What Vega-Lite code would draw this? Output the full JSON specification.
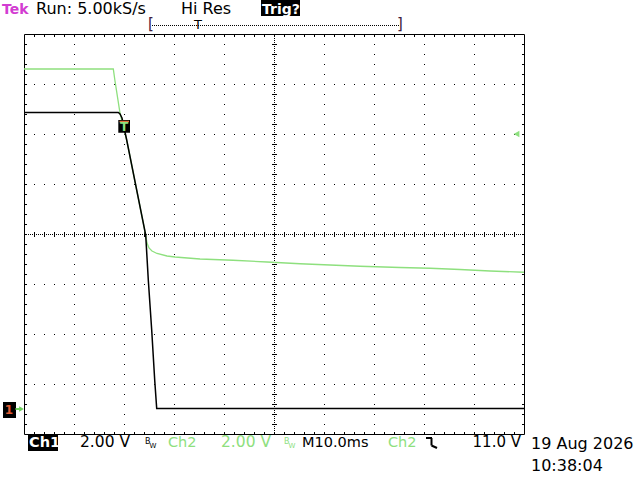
{
  "$schema": "https://vega.github.io/schema/vega-lite/v6.json",
  "width": 500,
  "height": 400,
  "autosize": {"type": "none"},
  "padding": {"left": 24, "top": 34, "right": 116, "bottom": 46},
  "background": "white",
  "config": {"view": {"stroke": "black", "strokeWidth": 1}, "font": "DejaVu Sans"},
  "data": {"values": [{}]},
  "datasets": {
    "traces": [
      {"ch": "Ch2", "t": 0, "v": 13.6},
      {"ch": "Ch2", "t": 17.86, "v": 13.6},
      {"ch": "Ch2", "t": 18.2, "v": 13.12},
      {"ch": "Ch2", "t": 19.2, "v": 11.84},
      {"ch": "Ch2", "t": 19.6, "v": 11.52},
      {"ch": "Ch2", "t": 20.54, "v": 10.76},
      {"ch": "Ch2", "t": 24.34, "v": 6.96},
      {"ch": "Ch2", "t": 24.6, "v": 6.64},
      {"ch": "Ch2", "t": 25.0, "v": 6.44},
      {"ch": "Ch2", "t": 25.6, "v": 6.32},
      {"ch": "Ch2", "t": 26.6, "v": 6.22},
      {"ch": "Ch2", "t": 28.6, "v": 6.12},
      {"ch": "Ch2", "t": 30.2, "v": 6.08},
      {"ch": "Ch2", "t": 35.2, "v": 6.0},
      {"ch": "Ch2", "t": 41.8, "v": 5.95},
      {"ch": "Ch2", "t": 48.6, "v": 5.88},
      {"ch": "Ch2", "t": 55.2, "v": 5.81},
      {"ch": "Ch2", "t": 61.2, "v": 5.76},
      {"ch": "Ch2", "t": 67.2, "v": 5.71},
      {"ch": "Ch2", "t": 75.2, "v": 5.66},
      {"ch": "Ch2", "t": 81.2, "v": 5.63},
      {"ch": "Ch2", "t": 87.2, "v": 5.58},
      {"ch": "Ch2", "t": 93.2, "v": 5.52},
      {"ch": "Ch2", "t": 100, "v": 5.47},
      {"ch": "Ch1", "t": 0, "v": 11.86},
      {"ch": "Ch1", "t": 18.86, "v": 11.86},
      {"ch": "Ch1", "t": 19.2, "v": 11.8},
      {"ch": "Ch1", "t": 19.6, "v": 11.64},
      {"ch": "Ch1", "t": 20.54, "v": 10.76},
      {"ch": "Ch1", "t": 24.34, "v": 6.96},
      {"ch": "Ch1", "t": 24.86, "v": 5.16},
      {"ch": "Ch1", "t": 25.54, "v": 3.16},
      {"ch": "Ch1", "t": 26.14, "v": 1.16},
      {"ch": "Ch1", "t": 26.54, "v": 0.02},
      {"ch": "Ch1", "t": 100, "v": 0.02}
    ]
  },
  "resolve": {"axis": {"x": "independent", "y": "independent"}},
  "layer": [
    {
      "mark": {"type": "point", "opacity": 0},
      "encoding": {
        "x": {"datum": 50, "type": "quantitative",
          "scale": {"domain": [0, 100], "nice": false, "zero": false},
          "axis": {"orient": "bottom", "title": null, "labels": false, "domain": false, "ticks": false,
            "values": [10, 20, 30, 40, 60, 70, 80, 90],
            "grid": true, "gridColor": "black", "gridWidth": 1, "gridOpacity": 1, "gridDash": [1, 9], "gridDashOffset": 0.5}},
        "y": {"datum": 7, "type": "quantitative",
          "scale": {"domain": [-1, 15], "nice": false, "zero": false},
          "axis": {"orient": "left", "title": null, "labels": false, "domain": false, "ticks": false,
            "values": [1, 3, 5, 9, 11, 13],
            "grid": true, "gridColor": "black", "gridWidth": 1, "gridOpacity": 1, "gridDash": [1, 9], "gridDashOffset": 0.5}}
      }
    },
    {
      "mark": {"type": "point", "opacity": 0},
      "encoding": {
        "x": {"datum": 50, "type": "quantitative",
          "axis": {"orient": "top", "offset": -400, "title": null, "labels": false, "domain": false, "grid": false,
            "values": [2,4,6,8,10,12,14,16,18,20,22,24,26,28,30,32,34,36,38,40,42,44,46,48,50,52,54,56,58,60,62,64,66,68,70,72,74,76,78,80,82,84,86,88,90,92,94,96,98],
            "ticks": true, "tickSize": 2.5, "tickColor": "black", "tickWidth": 1, "tickOpacity": 1}},
        "y": {"datum": 7, "type": "quantitative",
          "axis": {"orient": "right", "offset": -500, "title": null, "labels": false, "domain": false, "grid": false,
            "values": [-0.6,-0.2,0.2,0.6,1,1.4,1.8,2.2,2.6,3,3.4,3.8,4.2,4.6,5,5.4,5.8,6.2,6.6,7,7.4,7.8,8.2,8.6,9,9.4,9.8,10.2,10.6,11,11.4,11.8,12.2,12.6,13,13.4,13.8,14.2,14.6],
            "ticks": true, "tickSize": 2.5, "tickColor": "black", "tickWidth": 1, "tickOpacity": 1}}
      }
    },
    {
      "mark": {"type": "point", "opacity": 0},
      "encoding": {
        "x": {"datum": 50, "type": "quantitative",
          "axis": {"orient": "bottom", "offset": -400, "title": null, "labels": false, "domain": false, "grid": false,
            "values": [2,4,6,8,10,12,14,16,18,20,22,24,26,28,30,32,34,36,38,40,42,44,46,48,50,52,54,56,58,60,62,64,66,68,70,72,74,76,78,80,82,84,86,88,90,92,94,96,98],
            "ticks": true, "tickSize": 2.5, "tickColor": "black", "tickWidth": 1, "tickOpacity": 1}},
        "y": {"datum": 7, "type": "quantitative",
          "axis": {"orient": "left", "offset": -500, "title": null, "labels": false, "domain": false, "grid": false,
            "values": [-0.6,-0.2,0.2,0.6,1,1.4,1.8,2.2,2.6,3,3.4,3.8,4.2,4.6,5,5.4,5.8,6.2,6.6,7,7.4,7.8,8.2,8.6,9,9.4,9.8,10.2,10.6,11,11.4,11.8,12.2,12.6,13,13.4,13.8,14.2,14.6],
            "ticks": true, "tickSize": 2.5, "tickColor": "black", "tickWidth": 1, "tickOpacity": 1}}
      }
    },
    {
      "mark": {"type": "point", "opacity": 0},
      "encoding": {
        "x": {"datum": 50, "type": "quantitative",
          "axis": {"orient": "bottom", "offset": -200, "title": null, "labels": false, "grid": false,
            "domain": true, "domainColor": "black", "domainWidth": 1, "domainDash": [1, 1], "domainDashOffset": 0.5,
            "values": [2,4,6,8,10,12,14,16,18,20,22,24,26,28,30,32,34,36,38,40,42,44,46,48,50,52,54,56,58,60,62,64,66,68,70,72,74,76,78,80,82,84,86,88,90,92,94,96,98],
            "ticks": true, "tickSize": 2.5, "tickColor": "black", "tickWidth": 1, "tickOpacity": 1}},
        "y": {"datum": 7, "type": "quantitative",
          "axis": {"orient": "left", "offset": -250, "title": null, "labels": false, "grid": false,
            "domain": true, "domainColor": "black", "domainWidth": 1, "domainDash": [1, 1], "domainDashOffset": 0.5,
            "values": [-0.6,-0.2,0.2,0.6,1,1.4,1.8,2.2,2.6,3,3.4,3.8,4.2,4.6,5,5.4,5.8,6.2,6.6,7,7.4,7.8,8.2,8.6,9,9.4,9.8,10.2,10.6,11,11.4,11.8,12.2,12.6,13,13.4,13.8,14.2,14.6],
            "ticks": true, "tickSize": 2.5, "tickColor": "black", "tickWidth": 1, "tickOpacity": 1}}
      }
    },
    {
      "mark": {"type": "point", "opacity": 0},
      "encoding": {
        "x": {"datum": 50, "type": "quantitative",
          "axis": {"orient": "top", "offset": -200, "title": null, "labels": false, "grid": false, "domain": false,
            "values": [2,4,6,8,10,12,14,16,18,20,22,24,26,28,30,32,34,36,38,40,42,44,46,48,50,52,54,56,58,60,62,64,66,68,70,72,74,76,78,80,82,84,86,88,90,92,94,96,98],
            "ticks": true, "tickSize": 2.5, "tickColor": "black", "tickWidth": 1, "tickOpacity": 1}},
        "y": {"datum": 7, "type": "quantitative",
          "axis": {"orient": "right", "offset": -250, "title": null, "labels": false, "grid": false, "domain": false,
            "values": [-0.6,-0.2,0.2,0.6,1,1.4,1.8,2.2,2.6,3,3.4,3.8,4.2,4.6,5,5.4,5.8,6.2,6.6,7,7.4,7.8,8.2,8.6,9,9.4,9.8,10.2,10.6,11,11.4,11.8,12.2,12.6,13,13.4,13.8,14.2,14.6],
            "ticks": true, "tickSize": 2.5, "tickColor": "black", "tickWidth": 1, "tickOpacity": 1}}
      }
    },
    {
      "data": {"name": "traces"},
      "transform": [{"filter": "datum.ch === 'Ch2'"}],
      "mark": {"type": "line", "color": "#8ee07e", "strokeWidth": 1.3, "interpolate": "linear"},
      "encoding": {
        "x": {"field": "t", "type": "quantitative", "axis": null},
        "y": {"field": "v", "type": "quantitative", "axis": null}
      }
    },
    {
      "data": {"name": "traces"},
      "transform": [{"filter": "datum.ch === 'Ch1'"}],
      "mark": {"type": "line", "color": "black", "strokeWidth": 1.5, "interpolate": "linear"},
      "encoding": {
        "x": {"field": "t", "type": "quantitative", "axis": null},
        "y": {"field": "v", "type": "quantitative", "axis": null}
      }
    },
    {
      "mark": {"type": "rect", "color": "black"},
      "encoding": {
        "x": {"datum": 18.86, "type": "quantitative", "axis": null}, "x2": {"datum": 21.2},
        "y": {"datum": 11.56, "type": "quantitative", "axis": null}, "y2": {"datum": 11.05}
      }
    },
    {
      "mark": {"type": "rule", "color": "#e0703a", "strokeWidth": 1.5},
      "encoding": {
        "x": {"datum": 19.1, "type": "quantitative", "axis": null}, "x2": {"datum": 21.0},
        "y": {"datum": 11.5, "type": "quantitative", "axis": null}
      }
    },
    {
      "mark": {"type": "text", "text": "T", "color": "#8ee07e", "fontSize": 12, "fontWeight": "bold", "align": "center", "baseline": "middle"},
      "encoding": {
        "x": {"datum": 20.0, "type": "quantitative", "axis": null},
        "y": {"datum": 11.3, "type": "quantitative", "axis": null}
      }
    },
    {
      "mark": {"type": "point", "shape": "triangle-left", "filled": true, "color": "#8ee07e", "opacity": 1, "size": 45},
      "encoding": {
        "x": {"datum": 98.5, "type": "quantitative", "axis": null},
        "y": {"datum": 11.0, "type": "quantitative", "axis": null}
      }
    },
    {
      "mark": {"type": "rect", "color": "black"},
      "encoding": {
        "x": {"datum": -4.2, "type": "quantitative", "axis": null}, "x2": {"datum": -1.6},
        "y": {"datum": 0.28, "type": "quantitative", "axis": null}, "y2": {"datum": -0.36}
      }
    },
    {
      "mark": {"type": "text", "text": "1", "color": "#e05a32", "fontSize": 12, "fontWeight": "bold", "align": "center", "baseline": "middle"},
      "encoding": {
        "x": {"datum": -3.0, "type": "quantitative", "axis": null},
        "y": {"datum": -0.04, "type": "quantitative", "axis": null}
      }
    },
    {
      "mark": {"type": "rule", "color": "#6fd25e", "strokeWidth": 2},
      "encoding": {
        "x": {"datum": -1.7, "type": "quantitative", "axis": null}, "x2": {"datum": -0.4},
        "y": {"datum": 0.0, "type": "quantitative", "axis": null}
      }
    },
    {
      "mark": {"type": "point", "shape": "triangle-right", "filled": true, "color": "#6fd25e", "opacity": 1, "size": 30},
      "encoding": {
        "x": {"datum": -0.5, "type": "quantitative", "axis": null},
        "y": {"datum": 0.0, "type": "quantitative", "axis": null}
      }
    },
    {
      "mark": {"type": "text", "text": "Tek", "color": "#d23cd2", "fontSize": 14, "fontWeight": "bold", "align": "left", "baseline": "alphabetic"},
      "encoding": {
        "x": {"datum": -4.4, "type": "quantitative", "axis": null},
        "y": {"datum": 15.8, "type": "quantitative", "axis": null}
      }
    },
    {
      "mark": {"type": "text", "text": "Run: 5.00kS/s", "color": "black", "fontSize": 16, "align": "left", "baseline": "alphabetic"},
      "encoding": {
        "x": {"datum": 2.4, "type": "quantitative", "axis": null},
        "y": {"datum": 15.8, "type": "quantitative", "axis": null}
      }
    },
    {
      "mark": {"type": "text", "text": "Hi Res", "color": "black", "fontSize": 16, "align": "left", "baseline": "alphabetic"},
      "encoding": {
        "x": {"datum": 31.4, "type": "quantitative", "axis": null},
        "y": {"datum": 15.8, "type": "quantitative", "axis": null}
      }
    },
    {
      "mark": {"type": "rect", "color": "black"},
      "encoding": {
        "x": {"datum": 47.4, "type": "quantitative", "axis": null}, "x2": {"datum": 55.2},
        "y": {"datum": 16.36, "type": "quantitative", "axis": null}, "y2": {"datum": 15.72}
      }
    },
    {
      "mark": {"type": "text", "text": "Trig?", "color": "white", "fontSize": 14, "fontWeight": "bold", "align": "left", "baseline": "alphabetic"},
      "encoding": {
        "x": {"datum": 47.6, "type": "quantitative", "axis": null},
        "y": {"datum": 15.8, "type": "quantitative", "axis": null}
      }
    },
    {
      "mark": {"type": "rule", "color": "black", "strokeWidth": 1, "strokeDash": [1, 1]},
      "encoding": {
        "x": {"datum": 25.6, "type": "quantitative", "axis": null}, "x2": {"datum": 75.0},
        "y": {"datum": 15.34, "type": "quantitative", "axis": null}
      }
    },
    {
      "mark": {"type": "text", "text": "[", "color": "#402040", "fontSize": 15, "align": "center", "baseline": "middle"},
      "encoding": {
        "x": {"datum": 25.4, "type": "quantitative", "axis": null},
        "y": {"datum": 15.4, "type": "quantitative", "axis": null}
      }
    },
    {
      "mark": {"type": "text", "text": "]", "color": "#402040", "fontSize": 15, "align": "center", "baseline": "middle"},
      "encoding": {
        "x": {"datum": 75.2, "type": "quantitative", "axis": null},
        "y": {"datum": 15.4, "type": "quantitative", "axis": null}
      }
    },
    {
      "mark": {"type": "text", "text": "T", "color": "black", "fontSize": 13, "align": "center", "baseline": "middle"},
      "encoding": {
        "x": {"datum": 34.8, "type": "quantitative", "axis": null},
        "y": {"datum": 15.38, "type": "quantitative", "axis": null}
      }
    },
    {
      "mark": {"type": "rect", "color": "black"},
      "encoding": {
        "x": {"datum": 0.8, "type": "quantitative", "axis": null}, "x2": {"datum": 6.8},
        "y": {"datum": -1.04, "type": "quantitative", "axis": null}, "y2": {"datum": -1.68}
      }
    },
    {
      "mark": {"type": "text", "text": "Ch1", "color": "white", "fontSize": 14.5, "fontWeight": "bold", "align": "left", "baseline": "alphabetic"},
      "encoding": {
        "x": {"datum": 1.0, "type": "quantitative", "axis": null},
        "y": {"datum": -1.52, "type": "quantitative", "axis": null}
      }
    },
    {
      "mark": {"type": "text", "text": "2.00 V", "color": "black", "fontSize": 15.5, "align": "left", "baseline": "alphabetic"},
      "encoding": {
        "x": {"datum": 11.2, "type": "quantitative", "axis": null},
        "y": {"datum": -1.52, "type": "quantitative", "axis": null}
      }
    },
    {
      "mark": {"type": "text", "text": "B", "color": "black", "fontSize": 8, "align": "left", "baseline": "alphabetic"},
      "encoding": {
        "x": {"datum": 24.2, "type": "quantitative", "axis": null},
        "y": {"datum": -1.4, "type": "quantitative", "axis": null}
      }
    },
    {
      "mark": {"type": "text", "text": "W", "color": "black", "fontSize": 7, "align": "left", "baseline": "alphabetic"},
      "encoding": {
        "x": {"datum": 25.1, "type": "quantitative", "axis": null},
        "y": {"datum": -1.56, "type": "quantitative", "axis": null}
      }
    },
    {
      "mark": {"type": "text", "text": "Ch2", "color": "#8ee07e", "fontSize": 14.5, "align": "left", "baseline": "alphabetic"},
      "encoding": {
        "x": {"datum": 28.8, "type": "quantitative", "axis": null},
        "y": {"datum": -1.52, "type": "quantitative", "axis": null}
      }
    },
    {
      "mark": {"type": "text", "text": "2.00 V", "color": "#8ee07e", "fontSize": 15.5, "align": "left", "baseline": "alphabetic"},
      "encoding": {
        "x": {"datum": 39.4, "type": "quantitative", "axis": null},
        "y": {"datum": -1.52, "type": "quantitative", "axis": null}
      }
    },
    {
      "mark": {"type": "text", "text": "B", "color": "#8ee07e", "fontSize": 8, "align": "left", "baseline": "alphabetic"},
      "encoding": {
        "x": {"datum": 52.0, "type": "quantitative", "axis": null},
        "y": {"datum": -1.4, "type": "quantitative", "axis": null}
      }
    },
    {
      "mark": {"type": "text", "text": "W", "color": "#8ee07e", "fontSize": 7, "align": "left", "baseline": "alphabetic"},
      "encoding": {
        "x": {"datum": 52.9, "type": "quantitative", "axis": null},
        "y": {"datum": -1.56, "type": "quantitative", "axis": null}
      }
    },
    {
      "mark": {"type": "text", "text": "M10.0ms", "color": "black", "fontSize": 14.5, "align": "left", "baseline": "alphabetic"},
      "encoding": {
        "x": {"datum": 55.6, "type": "quantitative", "axis": null},
        "y": {"datum": -1.52, "type": "quantitative", "axis": null}
      }
    },
    {
      "mark": {"type": "text", "text": "Ch2", "color": "#8ee07e", "fontSize": 14.5, "align": "left", "baseline": "alphabetic"},
      "encoding": {
        "x": {"datum": 72.8, "type": "quantitative", "axis": null},
        "y": {"datum": -1.52, "type": "quantitative", "axis": null}
      }
    },
    {
      "mark": {"type": "rule", "color": "black", "strokeWidth": 2},
      "encoding": {
        "x": {"datum": 80.4, "type": "quantitative", "axis": null}, "x2": {"datum": 81.6},
        "y": {"datum": -1.16, "type": "quantitative", "axis": null}
      }
    },
    {
      "mark": {"type": "rule", "color": "black", "strokeWidth": 2},
      "encoding": {
        "x": {"datum": 81.5, "type": "quantitative", "axis": null},
        "y": {"datum": -1.16, "type": "quantitative", "axis": null}, "y2": {"datum": -1.46}
      }
    },
    {
      "mark": {"type": "rule", "color": "black", "strokeWidth": 2},
      "encoding": {
        "x": {"datum": 81.5, "type": "quantitative", "axis": null}, "x2": {"datum": 82.6},
        "y": {"datum": -1.46, "type": "quantitative", "axis": null}, "y2": {"datum": -1.56}
      }
    },
    {
      "mark": {"type": "text", "text": "11.0 V", "color": "black", "fontSize": 15, "align": "right", "baseline": "alphabetic"},
      "encoding": {
        "x": {"datum": 99.4, "type": "quantitative", "axis": null},
        "y": {"datum": -1.52, "type": "quantitative", "axis": null}
      }
    },
    {
      "mark": {"type": "text", "text": "19 Aug 2026", "color": "black", "fontSize": 16, "align": "left", "baseline": "alphabetic"},
      "encoding": {
        "x": {"datum": 101.4, "type": "quantitative", "axis": null},
        "y": {"datum": -1.6, "type": "quantitative", "axis": null}
      }
    },
    {
      "mark": {"type": "text", "text": "10:38:04", "color": "black", "fontSize": 16, "align": "left", "baseline": "alphabetic"},
      "encoding": {
        "x": {"datum": 101.4, "type": "quantitative", "axis": null},
        "y": {"datum": -2.48, "type": "quantitative", "axis": null}
      }
    }
  ]
}
